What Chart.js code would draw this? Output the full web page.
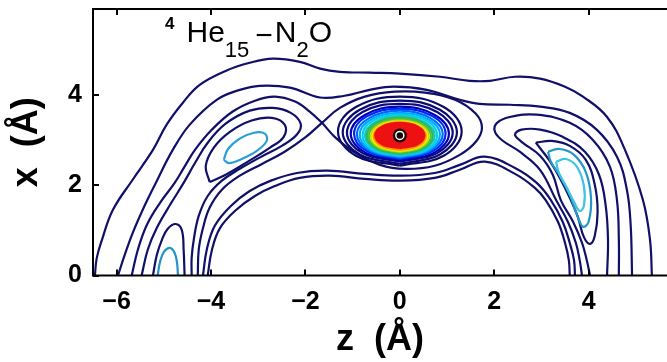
<!DOCTYPE html>
<html>
<head>
<meta charset="utf-8">
<script src="https://cdn.jsdelivr.net/npm/chart.js@4.4.1/dist/chart.umd.min.js"></script>
<style>
  html, body { margin: 0; padding: 0; background: #fff; }
  #wrap { position: relative; width: 667px; height: 362px; }
  #formula { position: absolute; left: 165px; top: 17px; font-family: 'Liberation Sans', Arial, sans-serif; font-size: 30px; line-height: 30px; color: #000; white-space: nowrap; }
  #formula .sup { font-size: 17px; font-weight: bold; position: relative; top: -13px; margin-right: 12px; }
  #formula .sub { font-size: 22px; position: relative; top: 15px; }
  #formula .dash { position: relative; top: 3px; margin: 0 2px 0 6px; }
</style>
</head>
<body>
<div id="wrap">
  <canvas id="chart" width="667" height="362"></canvas>
  <div id="formula"><span class="sup">4</span>He<span class="sub">15</span><span class="dash">−</span>N<span class="sub">2</span>O</div>
</div>
<script>
// eixos (Å)
const zTicks = [-6, -4, -2, 0, 2, 4];
const xTicks = [0, 2, 4];
const zRange = [-6.5, 5.66];
const xRange = [0, 5.9];

// contornos abertos que tocam x = 0 (pares [z, x])
const outer1 = [[-6.46,0],[-6.42,0.39],[-6.31,0.79],[-6.08,1.45],[-5.66,2.12],[-5.23,2.78],[-4.94,3.34],[-4.60,3.82],[-4.24,4.22],[-3.69,4.53],[-3.18,4.71],[-2.69,4.80],[-2.12,4.73],[-1.69,4.58],[-1.27,4.51],[-0.64,4.49],[0,4.47],[0.85,4.40],[1.48,4.31],[1.91,4.31],[2.44,4.40],[2.97,4.36],[3.50,4.18],[3.88,3.96],[4.39,3.51],[4.77,2.78],[5.15,1.67],[5.30,0.79],[5.34,0]];
const outer2 = [[-5.97,0],[-5.83,0.45],[-5.66,0.94],[-5.40,1.56],[-5.17,2.05],[-4.81,2.78],[-4.45,3.34],[-3.88,3.89],[-3.39,4.11],[-2.97,4.20],[-2.33,4.16],[-1.69,3.94],[-1.17,3.98],[-0.64,4.11],[-0.13,4.18],[0.57,4.11],[1.27,3.89],[1.69,3.80],[2.33,3.78],[2.97,3.74],[3.60,3.60],[4.17,3.23],[4.60,2.63],[4.81,1.90],[4.89,1.12],[4.92,0]];
const inner1 = [[-4.07,0],[-3.98,0.57],[-3.81,1.05],[-3.47,1.45],[-3.07,1.76],[-2.65,1.98],[-2.12,2.16],[-1.48,2.21],[-0.74,2.14],[0,2.10],[0.74,2.16],[1.27,2.34],[1.80,2.52],[2.44,2.25],[2.86,1.94],[3.09,1.67],[3.35,1.19],[3.50,0.72],[3.58,0.34],[3.60,0]];
const inner2 = [[-4.17,0],[-4.09,0.57],[-3.92,1.10],[-3.58,1.54],[-3.18,1.87],[-2.73,2.10],[-2.18,2.27],[-1.53,2.32],[-0.74,2.25],[0,2.21],[0.74,2.27],[1.27,2.45],[1.80,2.63],[2.44,2.38],[2.90,2.05],[3.20,1.67],[3.45,1.19],[3.60,0.72],[3.69,0.34],[3.71,0]];
// separatriz: passa pelo ponto de sela em (-1.65, 3.38)
const saddleLeft = [[-5.68,0],[-5.55,0.57],[-5.36,1.12],[-5.08,1.61],[-4.77,2.05],[-4.56,2.41],[-4.34,2.78],[-3.98,3.23],[-3.54,3.63],[-3.07,3.87],[-2.65,3.96],[-2.22,3.85],[-1.91,3.63],[-1.65,3.38],[-1.38,3.07],[-0.95,2.72],[-0.42,2.45],[0.11,2.36],[0.74,2.43],[1.27,2.67],[1.61,2.96],[1.74,3.27],[1.61,3.58],[1.17,3.89],[0.53,4.05],[-0.11,4.07],[-0.74,3.96],[-1.27,3.71],[-1.65,3.38],[-2.01,3.05],[-2.44,2.74],[-2.92,2.47],[-3.39,2.21],[-3.77,1.90],[-4.03,1.50],[-4.17,1.05],[-4.26,0.57],[-4.28,0]];
const leftLobeU = [[-5.47,0],[-5.34,0.57],[-5.15,1.05],[-4.87,1.56],[-4.58,2.05],[-4.34,2.49],[-4.07,2.94],[-3.69,3.36],[-3.18,3.65],[-2.69,3.71],[-2.31,3.60],[-2.10,3.36],[-2.18,3.12],[-2.50,2.87],[-2.97,2.61],[-3.39,2.36],[-3.77,2.10],[-4.07,1.76],[-4.26,1.32],[-4.36,0.83],[-4.41,0.39],[-4.41,0]];
const lowLeftArch = [[-5.23,0],[-5.15,0.45],[-5.04,0.79],[-4.92,1.03],[-4.75,1.14],[-4.62,1.01],[-4.58,0.57],[-4.56,0]];
const lowLeftCyan = [[-5.13,0],[-5.08,0.30],[-5.00,0.52],[-4.87,0.61],[-4.77,0.50],[-4.72,0.28],[-4.70,0]];
const rightU3 = [[4.64,0],[4.64,0.79],[4.60,1.67],[4.45,2.41],[4.09,3.00],[3.60,3.38],[2.90,3.56],[2.33,3.51],[2.06,3.38],[2.01,3.20],[2.16,3.00],[2.54,2.74],[2.97,2.34],[3.31,1.67],[3.56,1.19],[3.73,0.72],[3.81,0.34],[3.86,0]];
const rightU4 = [[4.39,0],[4.41,0.79],[4.36,1.56],[4.22,2.23],[3.92,2.74],[3.45,3.07],[2.97,3.23],[2.58,3.23],[2.44,3.12],[2.58,2.96],[2.97,2.65],[3.24,2.23],[3.41,1.67],[3.67,1.19],[3.86,0.72],[3.96,0.34],[4.03,0]];

// contornos fechados dos lóbulos laterais
const upLeftLoop = [[-4.03,2.07],[-4.11,2.43],[-3.94,2.83],[-3.60,3.18],[-3.14,3.43],[-2.71,3.49],[-2.44,3.34],[-2.46,3.07],[-2.75,2.83],[-3.22,2.52],[-3.69,2.23],[-4.03,2.07]];
const upLeftCyan = [[-3.73,2.56],[-3.64,2.80],[-3.39,3.03],[-3.09,3.16],[-2.86,3.14],[-2.82,2.98],[-3.03,2.76],[-3.35,2.58],[-3.62,2.49],[-3.73,2.56]];
const rightLoop = [[2.88,2.94],[3.22,2.98],[3.60,2.87],[3.94,2.56],[4.13,2.01],[4.19,1.41],[4.13,0.88],[4.03,0.70],[3.90,0.85],[3.77,1.30],[3.60,1.72],[3.39,2.16],[3.16,2.56],[2.88,2.94]];
const rightCyan1 = [[3.14,2.74],[3.39,2.80],[3.69,2.67],[3.94,2.29],[4.05,1.72],[4.00,1.19],[3.88,1.08],[3.75,1.36],[3.60,1.78],[3.39,2.21],[3.20,2.52],[3.14,2.74]];
const rightCyan2 = [[3.31,2.52],[3.52,2.58],[3.75,2.41],[3.90,1.98],[3.90,1.54],[3.81,1.43],[3.69,1.63],[3.52,1.98],[3.37,2.27],[3.31,2.52]];

// anéis do pico central (de fora para dentro)
const ring1 = [[0,2.43],[0.93,2.65],[1.31,3.19],[0.93,3.73],[0,3.96],[-0.93,3.73],[-1.31,3.19],[-0.93,2.65],[0,2.43]];
const ring2 = [[0,2.47],[0.85,2.68],[1.21,3.17],[0.85,3.67],[0,3.87],[-0.85,3.67],[-1.21,3.17],[-0.85,2.68],[0,2.47]];
const ring3 = [[0,2.52],[0.79,2.71],[1.12,3.16],[0.79,3.62],[0,3.80],[-0.79,3.62],[-1.12,3.16],[-0.79,2.71],[0,2.52]];
const ring4 = [[0,2.55],[0.73,2.72],[1.04,3.14],[0.73,3.56],[0,3.74],[-0.73,3.56],[-1.04,3.14],[-0.73,2.72],[0,2.55]];
const ring5 = [[0,2.58],[0.69,2.75],[0.97,3.14],[0.69,3.53],[0,3.69],[-0.69,3.53],[-0.97,3.14],[-0.69,2.75],[0,2.58]];
const ring6 = [[0,2.61],[0.64,2.76],[0.91,3.13],[0.64,3.49],[0,3.65],[-0.64,3.49],[-0.91,3.13],[-0.64,2.76],[0,2.61]];
const ring7 = [[0,2.63],[0.60,2.77],[0.85,3.12],[0.60,3.46],[0,3.60],[-0.60,3.46],[-0.85,3.12],[-0.60,2.77],[0,2.63]];
const ring8 = [[0,2.65],[0.56,2.78],[0.79,3.10],[0.56,3.43],[0,3.56],[-0.56,3.43],[-0.79,3.10],[-0.56,2.78],[0,2.65]];
const ring9 = [[0,2.67],[0.52,2.80],[0.74,3.10],[0.52,3.40],[0,3.53],[-0.52,3.40],[-0.74,3.10],[-0.52,2.80],[0,2.67]];
const ring10 = [[0,2.69],[0.49,2.81],[0.70,3.09],[0.49,3.38],[0,3.49],[-0.49,3.38],[-0.70,3.09],[-0.49,2.81],[0,2.69]];
const ring11 = [[0,2.72],[0.46,2.83],[0.66,3.09],[0.46,3.35],[0,3.46],[-0.46,3.35],[-0.66,3.09],[-0.46,2.83],[0,2.72]];
const ring12 = [[0,2.74],[0.43,2.84],[0.61,3.08],[0.43,3.33],[0,3.43],[-0.43,3.33],[-0.61,3.08],[-0.43,2.84],[0,2.74]];
const ring13 = [[0,2.76],[0.41,2.86],[0.58,3.08],[0.41,3.31],[0,3.40],[-0.41,3.31],[-0.58,3.08],[-0.41,2.86],[0,2.76]];
const ring14 = [[0,2.78],[0.39,2.87],[0.55,3.09],[0.39,3.30],[0,3.39],[-0.39,3.30],[-0.55,3.09],[-0.39,2.87],[0,2.78]];
const redCore = [[0,2.82],[0.37,2.90],[0.52,3.10],[0.37,3.30],[0,3.38],[-0.37,3.30],[-0.52,3.10],[-0.37,2.90],[0,2.82]];
const peak = [[0,3.10]];

const navy = '#10106a';
const ringColors = ['#0c0c66', '#0c0c70', '#0a0a82', '#0000b0', '#0028f0', '#0068ff', '#00a8ff', '#00d0f0', '#18c8b8', '#28b868', '#58c030', '#b8e010', '#f4ec00', '#ff9800'];
const rings = [ring1, ring2, ring3, ring4, ring5, ring6, ring7, ring8, ring9, ring10, ring11, ring12, ring13, ring14];

const toXY = (pts) => pts.map((p) => ({ x: p[0], y: p[1] }));
const contour = (pts, color) => ({
    data: toXY(pts), showLine: true, borderColor: color, borderWidth: 2.2,
    pointRadius: 0, tension: 0.4, fill: false
});

// ordem de pintura: do fundo para cima
const layers = [
    contour(outer1, navy), contour(outer2, navy),
    contour(inner1, navy), contour(inner2, navy),
    contour(saddleLeft, navy), contour(leftLobeU, navy),
    contour(lowLeftArch, navy), contour(lowLeftCyan, '#2494c8'),
    contour(upLeftLoop, navy), contour(upLeftCyan, '#2a9fd6'),
    contour(rightU3, navy), contour(rightU4, navy),
    contour(rightLoop, navy), contour(rightCyan1, '#2596c8'), contour(rightCyan2, '#3cc4e4'),
    ...rings.map((r, i) => contour(r, ringColors[i])),
    { ...contour(redCore, '#ee1111'), fill: 'shape', backgroundColor: '#ee1111' },
    { data: toXY(peak), pointRadius: 7, backgroundColor: '#1a0000', borderWidth: 0 },
    { data: toXY(peak), pointRadius: 4, backgroundColor: 'rgba(0,0,0,0)', borderColor: '#ffffff', borderWidth: 1.5 },
    { data: toXY(peak), pointRadius: 1.5, backgroundColor: '#000000', borderWidth: 0 }
];
layers.forEach((d, i) => { d.order = layers.length - i; });

// moldura + ticks para dentro (estilo MATLAB)
const frame = {
    id: 'frame',
    afterDatasetsDraw(chart) {
        const { ctx, chartArea: a, scales: { x, y } } = chart;
        ctx.save();
        ctx.strokeStyle = '#000';
        ctx.lineWidth = 2;
        ctx.beginPath();
        ctx.moveTo(a.right, a.top); ctx.lineTo(a.left, a.top);
        ctx.lineTo(a.left, a.bottom); ctx.lineTo(a.right, a.bottom);
        zTicks.forEach((v) => {
            const px = Math.round(x.getPixelForValue(v));
            ctx.moveTo(px, a.bottom); ctx.lineTo(px, a.bottom - 6);
            ctx.moveTo(px, a.top); ctx.lineTo(px, a.top + 6);
        });
        xTicks.forEach((v) => {
            const py = Math.round(y.getPixelForValue(v));
            ctx.moveTo(a.left, py); ctx.lineTo(a.left + 6, py);
        });
        ctx.stroke();
        ctx.restore();
    }
};

const font = "'Liberation Sans', Arial, sans-serif";
const minus = (v) => String(v).replace('-', '\u2212');
// sem folga extra dos rótulos nas pontas dos eixos
const noEdgePad = (s) => { s.paddingTop = 0; s.paddingBottom = 0; s.paddingLeft = 0; s.paddingRight = 0; };

new Chart(document.getElementById('chart'), {
    type: 'scatter',
    data: { datasets: layers },
    options: {
        responsive: false,
        animation: false,
        events: [],
        layout: { autoPadding: false, padding: { top: 9, right: 0, bottom: 0, left: 0 } },
        plugins: { legend: { display: false }, tooltip: { enabled: false } },
        scales: {
            x: {
                type: 'linear', min: zRange[0], max: zRange[1],
                afterBuildTicks: (s) => { s.ticks = zTicks.map((v) => ({ value: v })); },
                afterFit: (s) => { s.height = 86.5; noEdgePad(s); },
                grid: { display: false, drawTicks: false },
                border: { display: false },
                ticks: { color: '#000', padding: 12, font: { family: font, size: 25, weight: 'bold' }, callback: minus, maxRotation: 0 },
                title: { display: true, text: 'z  (Å)', color: '#000', font: { family: font, size: 36, weight: 'bold', lineHeight: 1.2 }, padding: { top: 0, bottom: 0 } }
            },
            y: {
                type: 'linear', min: xRange[0], max: xRange[1],
                afterBuildTicks: (s) => { s.ticks = xTicks.map((v) => ({ value: v })); },
                afterFit: (s) => { s.width = 93; noEdgePad(s); },
                grid: { display: false, drawTicks: false },
                border: { display: false },
                ticks: { color: '#000', padding: 11, font: { family: font, size: 25, weight: 'bold' }, callback: minus },
                title: { display: true, text: 'x  (Å)', color: '#000', font: { family: font, size: 36, weight: 'bold', lineHeight: 1.2 }, padding: { top: 5, bottom: 0 } }
            }
        }
    },
    plugins: [frame]
});
</script>
</body>
</html>
